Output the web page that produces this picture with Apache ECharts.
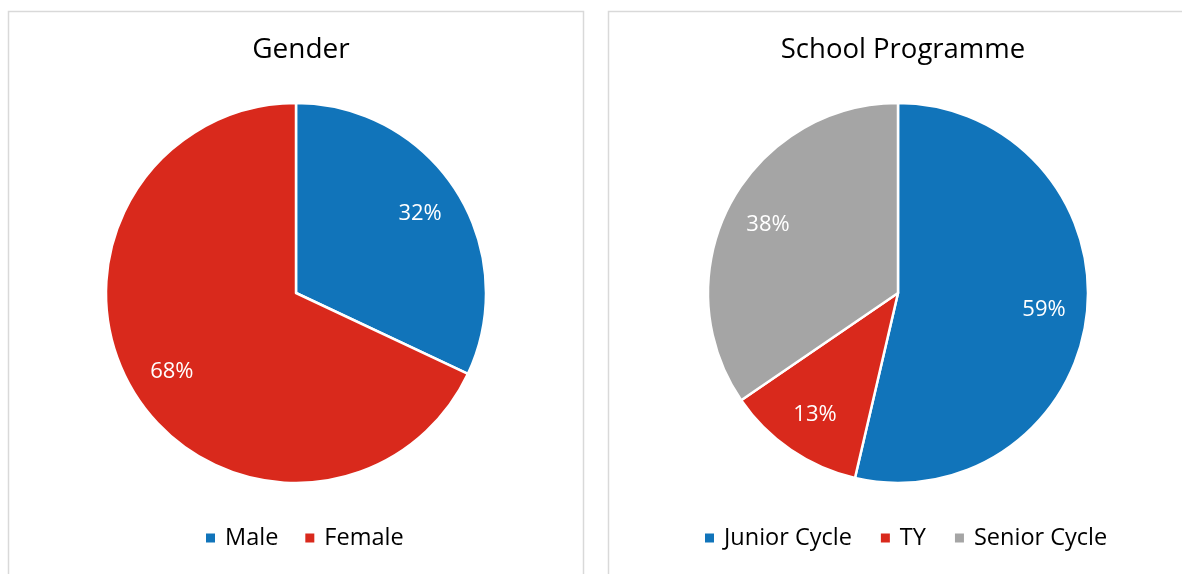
<!DOCTYPE html>
<html><head><meta charset="utf-8">
<script src="https://cdn.jsdelivr.net/npm/echarts@6/dist/echarts.min.js"></script>
<style>html,body{margin:0;padding:0;background:#fff}#c{width:1182px;height:574px}</style>
</head><body><div id="c"></div>
<script>
const genderCategories = ['Male', 'Female'];
const genderValues = [32, 68];
const programmeCategories = ['Junior Cycle', 'TY', 'Senior Cycle'];
const programmeValues = [59, 13, 38];
const genderColors = ['#1174BA', '#D9291C'];
const programmeColors = ['#1174BA', '#D9291C', '#A5A5A5'];

const FONT = '"Open Sans", "Noto Sans", sans-serif';
const R = 190;
const centers = [[296, 293], [898, 293]];

const chart = echarts.init(document.getElementById('c'), null, {renderer: 'canvas'});

function pushOut(center) {
  return function (params) {
    const r = params.labelRect;
    const cx = r.x + r.width / 2, cy = r.y + r.height / 2;
    return { dx: (cx - center[0]) * 0.5, dy: (cy - center[1]) * 0.5 };
  };
}

function makeSeries(names, values, colors, center) {
  return {
    type: 'pie',
    center: center,
    radius: R,
    startAngle: 90,
    clockwise: true,
    silent: true,
    data: names.map((n, i) => ({ name: n, value: values[i], itemStyle: { color: colors[i] } })),
    itemStyle: { borderColor: '#fff', borderWidth: 2.5 },
    label: {
      show: true, position: 'inside', formatter: '{c}%',
      color: '#fff', fontSize: 22, fontFamily: FONT
    },
    labelLine: { show: false },
    labelLayout: pushOut(center),
    emphasis: { disabled: true }
  };
}

const legendText = { fontFamily: FONT, fontSize: 23.5, color: '#000', padding: [0, 0, 0, 4] };

chart.setOption({
  animation: false,
  graphic: [
    { type: 'rect', shape: { x: 8.5, y: 11.5, width: 575, height: 600 }, style: { fill: 'none', stroke: '#d9d9d9', lineWidth: 1.5 }, silent: true },
    { type: 'rect', shape: { x: 608.5, y: 11.5, width: 600, height: 600 }, style: { fill: 'none', stroke: '#d9d9d9', lineWidth: 1.5 }, silent: true }
  ],
  title: [
    { text: 'Gender', left: 296, top: 31, textAlign: 'center', textStyle: { fontFamily: FONT, fontSize: 28, fontWeight: 'normal', color: '#000' } },
    { text: 'School Programme', left: 898, top: 31, textAlign: 'center', textStyle: { fontFamily: FONT, fontSize: 27.5, fontWeight: 'normal', color: '#000' } }
  ],
  legend: [
    { data: genderCategories, left: 204, top: 526, padding: 0, icon: 'rect', itemWidth: 11, itemHeight: 11, itemGap: 25,
      textStyle: legendText, selectedMode: false },
    { data: programmeCategories, left: 703, top: 526, padding: 0, icon: 'rect', itemWidth: 11, itemHeight: 11, itemGap: 27,
      textStyle: legendText, selectedMode: false }
  ],
  series: [
    makeSeries(genderCategories, genderValues, genderColors, centers[0]),
    makeSeries(programmeCategories, programmeValues, programmeColors, centers[1])
  ]
});
</script></body></html>
